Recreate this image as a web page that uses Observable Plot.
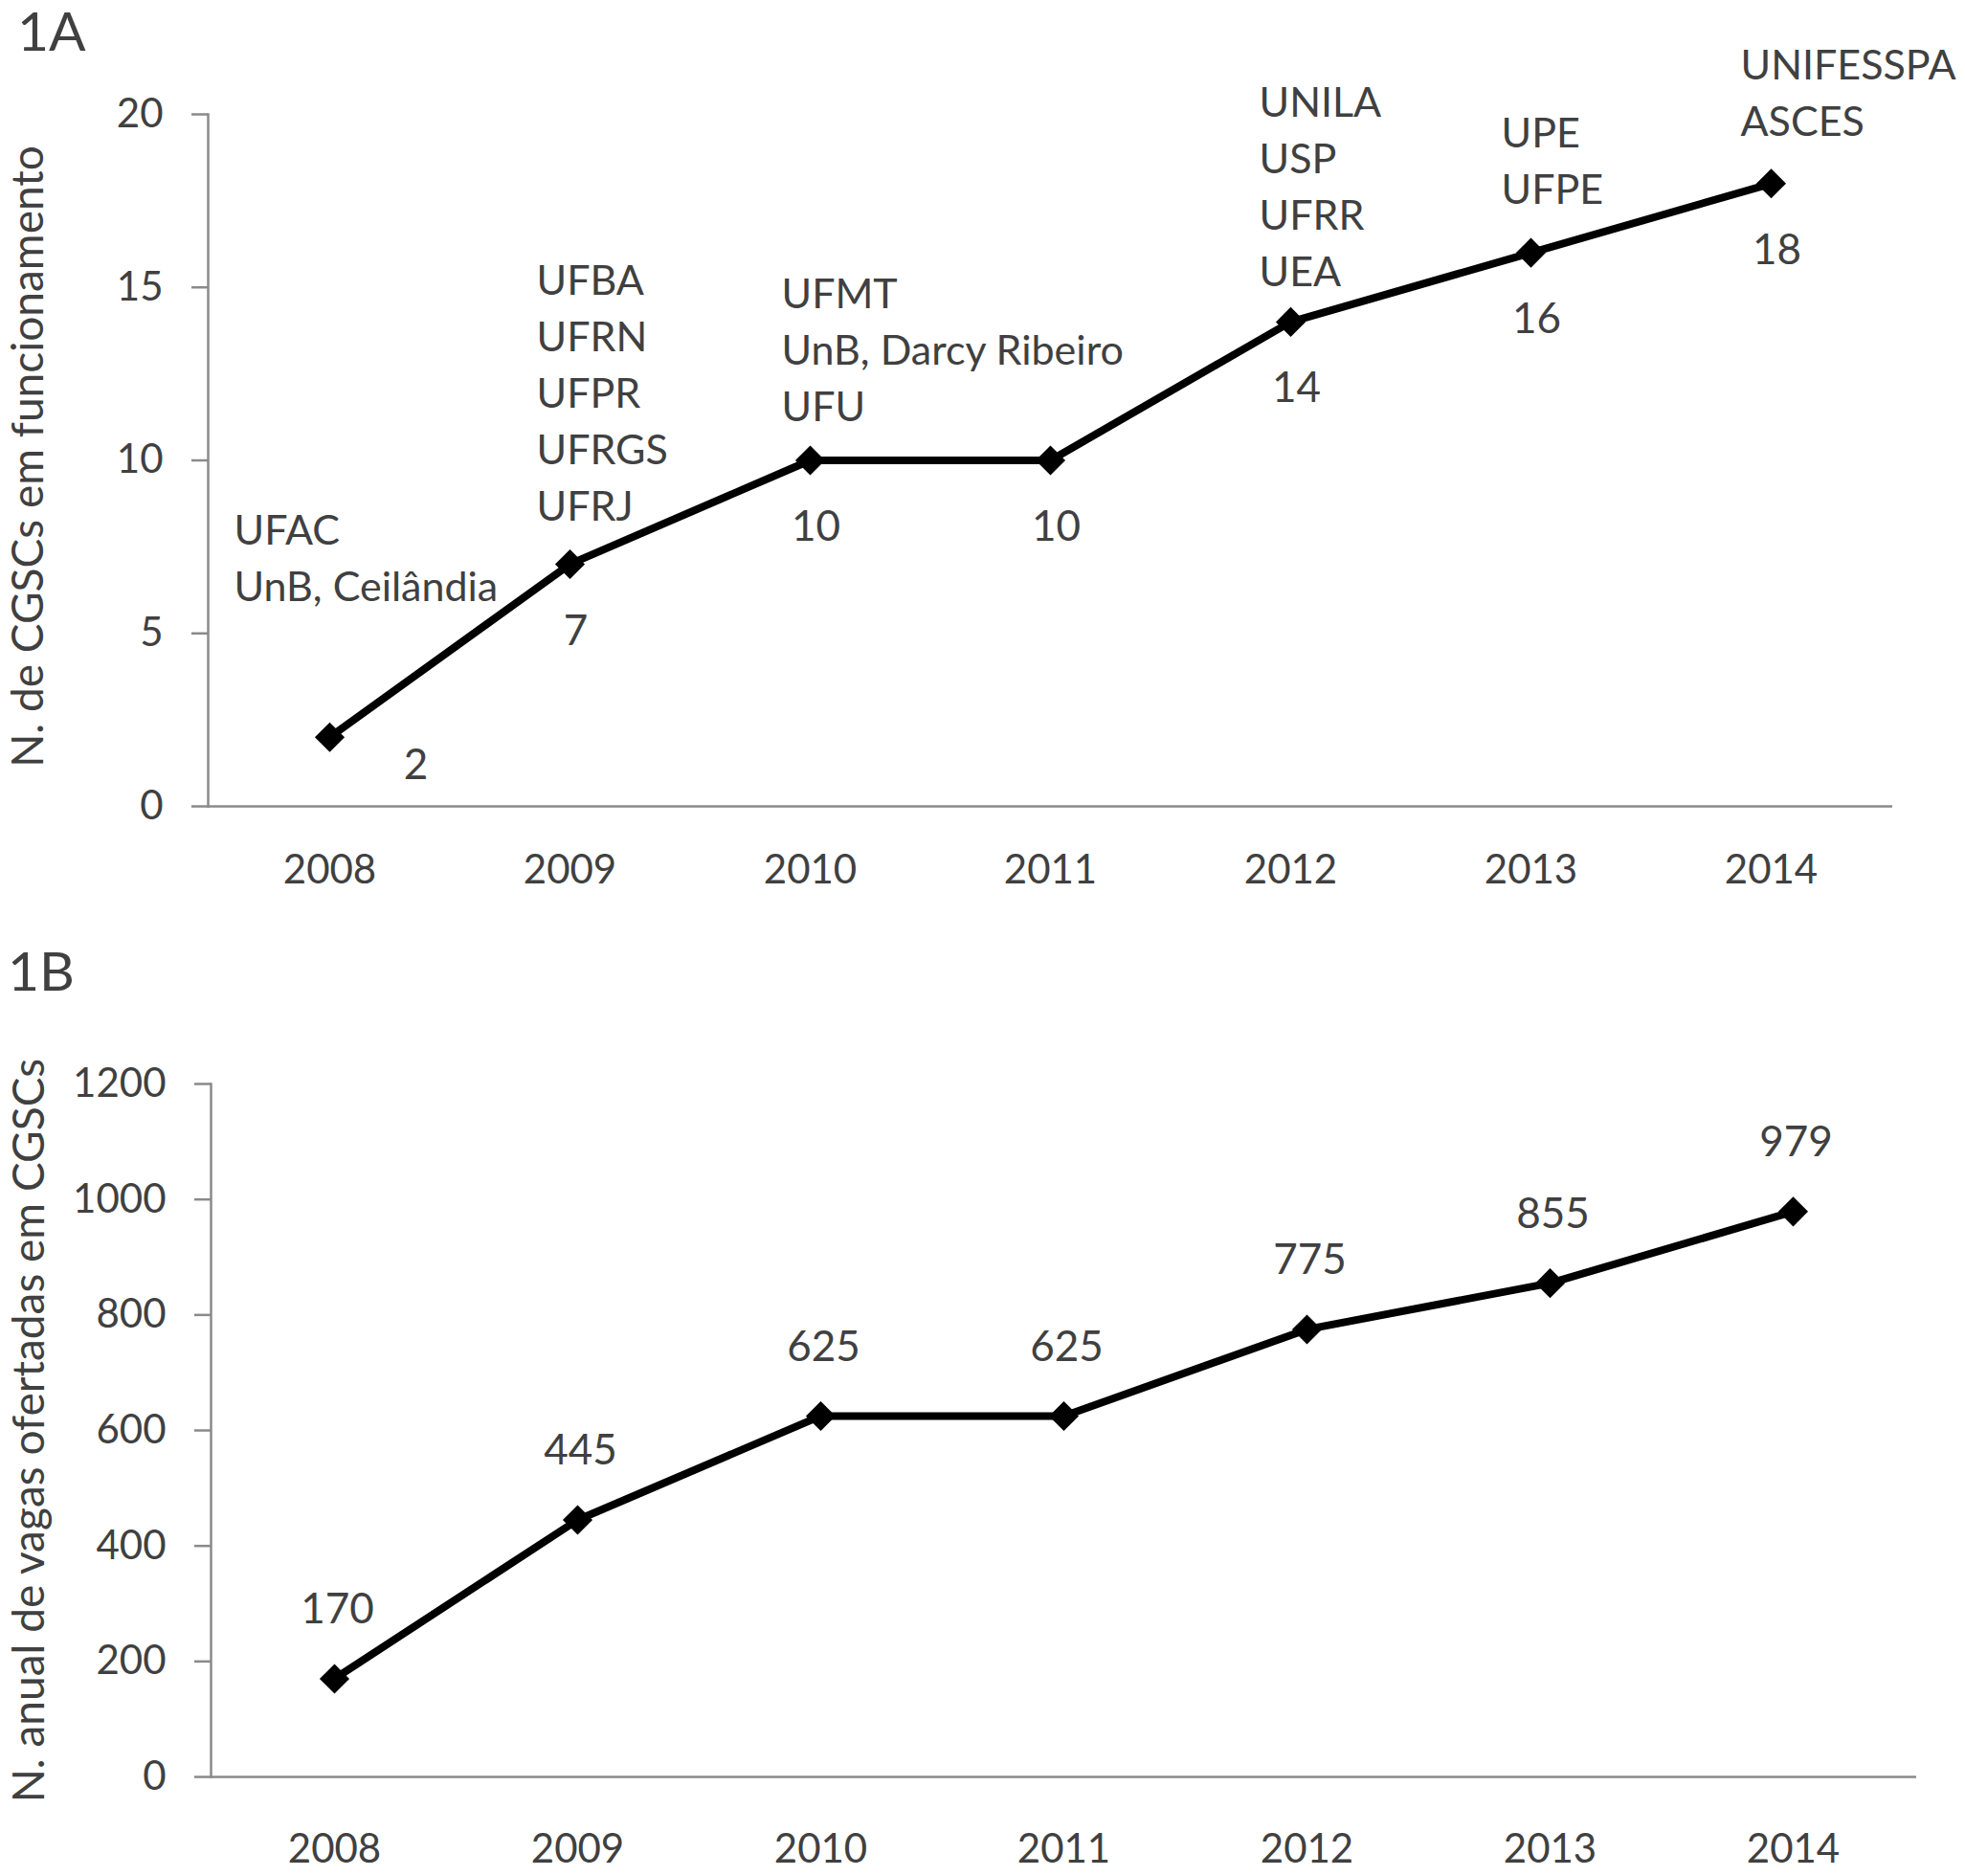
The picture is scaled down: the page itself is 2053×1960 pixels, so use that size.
<!DOCTYPE html>
<html>
<head>
<meta charset="utf-8">
<script src="https://cdn.jsdelivr.net/npm/d3@7"></script>
<script src="https://cdn.jsdelivr.net/npm/@observablehq/plot@0.6"></script>
<style>
  html, body { margin: 0; padding: 0; background: #fff; }
  #wrap { position: relative; width: 2053px; height: 1960px; font-family: Lato, sans-serif; }
  .tag { position: absolute; font-size: 57px; line-height: 1; color: #404040; font-family: Lato, sans-serif; }
  #tagA { left: 18px; top: 3px; }
  #tagB { left: 8px; top: 985px; }
  #chartA { position: absolute; left: 0; top: 0; }
  #chartB { position: absolute; left: 0; top: 960px; }
</style>
</head>
<body>
<div id="wrap">
  <div id="chartA"></div>
  <div id="chartB"></div>
  <div id="tagA" class="tag">1A</div>
  <div id="tagB" class="tag">1B</div>
</div>
<script>
// ---- data ----
const years = [2008, 2009, 2010, 2011, 2012, 2013, 2014];
const cursos = [2, 7, 10, 10, 14, 16, 18];
const vagas = [170, 445, 625, 625, 775, 855, 979];
const instituicoes = [
  ["UFAC", "UnB, Ceilândia"],
  ["UFBA", "UFRN", "UFPR", "UFRGS", "UFRJ"],
  ["UFMT", "UnB, Darcy Ribeiro", "UFU"],
  [],
  ["UNILA", "USP", "UFRR", "UEA"],
  ["UPE", "UFPE"],
  ["UNIFESSPA", "ASCES"]
];
const yTicksA = [0, 5, 10, 15, 20];
const yTicksB = [0, 200, 400, 600, 800, 1000, 1200];
const yLabelA = "N. de CGSCs em funcionamento";
const yLabelB = "N. anual de vagas ofertadas em CGSCs";

// ---- layout (pixel offsets of the institution blocks relative to their point) ----
const nameOffsets = {2008: [-100, -142], 2009: [-35, -45], 2010: [-30, -41], 2012: [-33, -37], 2013: [-31, -51], 2014: [-32, -50]};

const axisGray = "#8a8a8a";
const textGray = "#404040";

const dataA = years.map((year, i) => ({year, value: cursos[i], names: instituicoes[i]}));
const dataB = years.map((year, i) => ({year, value: vagas[i]}));

const common = {
  width: 2053,
  style: {fontFamily: "Lato, sans-serif", background: "transparent", overflow: "visible"},
};

const chartA = Plot.plot({
  ...common,
  height: 960,
  marginTop: 119, marginBottom: 118, marginLeft: 217, marginRight: 76,
  x: {type: "point", domain: years, padding: 0.5},
  y: {domain: [0, 20]},
  marks: [
    Plot.ruleY([0], {stroke: axisGray, strokeWidth: 2.5}),
    Plot.frame({anchor: "left", stroke: axisGray, strokeWidth: 2.5}),
    Plot.axisY({ticks: yTicksA, tickSize: 17, tickPadding: 30, stroke: axisGray, strokeWidth: 2.5, fill: textGray, fontSize: 42, label: null, tickFormat: d => String(d)}),
    Plot.axisX({tickSize: 0, tickPadding: 51, fill: textGray, fontSize: 42, label: null, tickFormat: d => String(d)}),
    Plot.text([yLabelA], {frameAnchor: "left", rotate: -90, dx: -205, dy: -4, textAnchor: "middle", lineAnchor: "top", fontSize: 46, fill: textGray}),
    Plot.line(dataA, {x: "year", y: "value", stroke: "#000", strokeWidth: 8}),
    Plot.dot(dataA, {x: "year", y: "value", symbol: "diamond2", r: 14, fill: "#000", stroke: "none"}),
    Plot.text(dataA.filter(d => d.year !== 2008), {x: "year", y: "value", text: d => String(d.value), dx: 6, dy: 70, fontSize: 44, fill: textGray}),
    Plot.text(dataA.filter(d => d.year === 2008), {x: "year", y: "value", text: d => String(d.value), dx: 90, dy: 30, fontSize: 44, fill: textGray}),
    ...dataA.filter(d => d.names.length).map(d => Plot.text([d], {
      x: "year", y: "value", text: r => r.names.join("\n"),
      textAnchor: "start", lineAnchor: "bottom", lineHeight: 59 / 43, fontSize: 43, fill: textGray,
      dx: nameOffsets[d.year][0], dy: nameOffsets[d.year][1]
    }))
  ]
});
document.getElementById("chartA").appendChild(chartA);

const chartB = Plot.plot({
  ...common,
  height: 1000,
  marginTop: 172, marginBottom: 104, marginLeft: 220, marginRight: 51,
  x: {type: "point", domain: years, padding: 0.5},
  y: {domain: [0, 1200]},
  marks: [
    Plot.ruleY([0], {stroke: axisGray, strokeWidth: 2.5}),
    Plot.frame({anchor: "left", stroke: axisGray, strokeWidth: 2.5}),
    Plot.axisY({ticks: yTicksB, tickSize: 17, tickPadding: 30, stroke: axisGray, strokeWidth: 2.5, fill: textGray, fontSize: 42, label: null, tickFormat: d => String(d)}),
    Plot.axisX({tickSize: 0, tickPadding: 60, fill: textGray, fontSize: 42, label: null, tickFormat: d => String(d)}),
    Plot.text([yLabelB], {frameAnchor: "left", rotate: -90, dx: -207, textAnchor: "middle", lineAnchor: "top", fontSize: 46, fill: textGray}),
    Plot.line(dataB, {x: "year", y: "value", stroke: "#000", strokeWidth: 8}),
    Plot.dot(dataB, {x: "year", y: "value", symbol: "diamond2", r: 14, fill: "#000", stroke: "none"}),
    Plot.text(dataB, {x: "year", y: "value", text: d => String(d.value), dx: 3, dy: -72, fontSize: 44, fill: textGray})
  ]
});
document.getElementById("chartB").appendChild(chartB);
</script>
</body>
</html>
